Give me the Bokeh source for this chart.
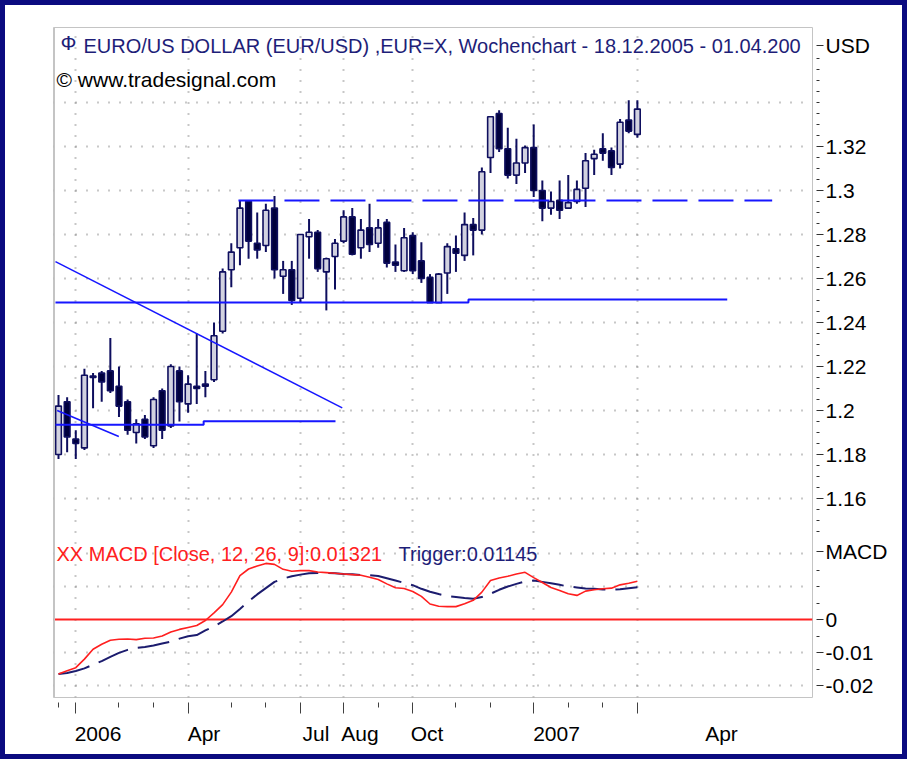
import numpy as np
from bokeh.plotting import figure
from bokeh.models import (Range1d, LinearAxis, FixedTicker, Grid, Label,
                          ColumnDataSource, Span)
from bokeh.embed import file_html
from bokeh.resources import INLINE

# ---------------- data (weekly bars 18.12.2005 - 01.04.2007) ----------------
week_index = list(range(68))

open_ = [1.180, 1.204, 1.187, 1.183, 1.2150, 1.217, 1.218, 1.211, 1.204, 1.190,
         1.196, 1.184, 1.209, 1.193, 1.218, 1.203, 1.211, 1.212, 1.214, 1.236,
         1.264, 1.274, 1.295, 1.276, 1.275, 1.292, 1.261, 1.264, 1.251, 1.279,
         1.281, 1.263, 1.270, 1.277, 1.288, 1.274, 1.283, 1.276, 1.2855, 1.2675,
         1.2635, 1.2795, 1.268, 1.2605, 1.249, 1.2625, 1.2735, 1.2705, 1.2845, 1.282,
         1.315, 1.335, 1.319, 1.307, 1.3125, 1.3195, 1.300, 1.292, 1.2955, 1.292,
         1.295, 1.301, 1.3145, 1.319, 1.318, 1.312, 1.332, 1.3255]
high = [1.207, 1.206, 1.191, 1.219, 1.217, 1.218, 1.233, 1.220, 1.205, 1.196,
        1.198, 1.206, 1.210, 1.221, 1.220, 1.216, 1.235, 1.218, 1.240, 1.2645,
        1.276, 1.2955, 1.2955, 1.290, 1.294, 1.2975, 1.268, 1.268, 1.280, 1.287,
        1.282, 1.2695, 1.278, 1.291, 1.292, 1.287, 1.294, 1.287, 1.287, 1.2755,
        1.283, 1.281, 1.2765, 1.262, 1.2625, 1.276, 1.2795, 1.290, 1.2875, 1.3105,
        1.3335, 1.3365, 1.3285, 1.3235, 1.3205, 1.330, 1.3045, 1.2995, 1.3045, 1.307,
        1.3045, 1.317, 1.3185, 1.326, 1.3195, 1.3325, 1.341, 1.341]
low = [1.178, 1.181, 1.178, 1.182, 1.201, 1.204, 1.208, 1.197, 1.189, 1.185,
       1.187, 1.183, 1.187, 1.192, 1.195, 1.199, 1.203, 1.206, 1.213, 1.235,
       1.256, 1.266, 1.269, 1.269, 1.272, 1.260, 1.253, 1.248, 1.249, 1.269,
       1.263, 1.2455, 1.255, 1.276, 1.2705, 1.269, 1.272, 1.274, 1.265, 1.263,
       1.263, 1.262, 1.258, 1.249, 1.249, 1.253, 1.263, 1.268, 1.2705, 1.280,
       1.308, 1.3175, 1.3055, 1.303, 1.308, 1.297, 1.286, 1.289, 1.287, 1.292,
       1.294, 1.2925, 1.307, 1.3135, 1.307, 1.310, 1.326, 1.324]
close = [1.202, 1.188, 1.185, 1.216, 1.2157, 1.213, 1.209, 1.202, 1.191, 1.194,
         1.188, 1.205, 1.191, 1.220, 1.204, 1.212, 1.210, 1.211, 1.234, 1.263,
         1.272, 1.292, 1.277, 1.273, 1.291, 1.264, 1.264, 1.250, 1.280, 1.281,
         1.2645, 1.269, 1.276, 1.288, 1.271, 1.282, 1.2755, 1.283, 1.267, 1.266,
         1.2785, 1.2635, 1.260, 1.249, 1.262, 1.2745, 1.2715, 1.2845, 1.282, 1.3085,
         1.3335, 1.319, 1.307, 1.3125, 1.3195, 1.300, 1.292, 1.295, 1.291, 1.2945,
         1.3005, 1.3135, 1.3165, 1.317, 1.3105, 1.331, 1.327, 1.337]

macd = [-0.0165, -0.0155, -0.0146, -0.0120, -0.0090, -0.0075, -0.0063, -0.0060, -0.0059, -0.0061,
        -0.0057, -0.0056, -0.0050, -0.0038, -0.0030, -0.0024, -0.0018, -0.0003, 0.0020, 0.0045,
        0.0083, 0.0133, 0.0153, 0.0162, 0.0170, 0.0167, 0.0152, 0.0146, 0.0148, 0.0148,
        0.0144, 0.0142, 0.0140, 0.0138, 0.0136, 0.0134, 0.0128, 0.0121, 0.0108, 0.0096,
        0.0094, 0.0085, 0.0070, 0.0047, 0.0040, 0.0039, 0.0039, 0.0048, 0.0058, 0.0083,
        0.0118, 0.0126, 0.0131, 0.0138, 0.0143, 0.0127, 0.0112, 0.0097, 0.0088, 0.0078,
        0.0073, 0.0086, 0.0090, 0.0093, 0.0095, 0.0105, 0.0110, 0.0116]
trigger = [-0.0165, -0.0162, -0.0156, -0.0148, -0.0137, -0.0126, -0.0113, -0.0101, -0.0092, -0.0086,
           -0.0083, -0.0079, -0.0073, -0.0067, -0.0058, -0.0051, -0.0047, -0.0033, -0.0021, -0.0006,
           0.0010, 0.0032, 0.0055, 0.0076, 0.0095, 0.0114, 0.0124, 0.0131, 0.0136, 0.0140,
           0.0141, 0.0141, 0.0140, 0.0138, 0.0137, 0.0135, 0.0134, 0.0132, 0.0125, 0.0118,
           0.0111, 0.0104, 0.0093, 0.0084, 0.0077, 0.0071, 0.0068, 0.0065, 0.0063, 0.0068,
           0.0078, 0.0090, 0.0100, 0.0108, 0.0115, 0.0118, 0.0114, 0.0110, 0.0105, 0.0100,
           0.0097, 0.0094, 0.0093, 0.0091, 0.0090, 0.0092, 0.0095, 0.0098]
macd_zero = [0.0]

# trend lines (week index, price)
desc_x = [-0.35, 32.84]
desc_y = [1.2677, 1.2012]
short_x = [-0.15, 6.98]
short_y = [1.2000, 1.1882]
low_sup_x = [-0.35, 16.8, 16.8, 32.06]
low_sup_y = [1.1935, 1.1935, 1.1951, 1.1951]
mid_sup_x = [-0.35, 47.45, 47.45, 77.4]
mid_sup_y = [1.2491, 1.2491, 1.2505, 1.2505]
res_x = [20.83, 82.6]
res_y = [1.2955, 1.2955]

# axis ticks / labels
price_ticks = [1.16, 1.18, 1.20, 1.22, 1.24, 1.26, 1.28, 1.30, 1.32]
price_tick_labels = ["1.16", "1.18", "1.2", "1.22", "1.24", "1.26", "1.28", "1.3", "1.32"]
price_grid = [1.16, 1.18, 1.20, 1.22, 1.24, 1.26, 1.28, 1.30, 1.32, 1.34]
macd_ticks = [-0.02, -0.01, 0.0]
macd_tick_labels = ["-0.02", "-0.01", "0"]
macd_grid = [-0.02, -0.01, 0.01, 0.02]
macd_minor = [-0.015, -0.005, 0.005, 0.01, 0.015]
month_ticks = [2, 15, 28, 33, 41, 55, 67]
month_minor = [0, 7, 11, 20, 24, 37, 46, 50, 59, 63]
month_label_pos = [4.57, 16.84, 29.8, 34.9, 42.65, 57.64, 76.74]
month_labels = ["2006", "Apr", "Jul", "Aug", "Oct", "2007", "Apr"]

# ---------------- layout helpers (reference pixel -> data) ----------------
def xd(px):
    return (px - 58) / 8.64

def yd(py):
    return 1.32 - (py - 146) / 2200.0

X0, X1 = xd(53), xd(812)
Y0, Y1 = yd(697), yd(27)
M0, M1 = -(697 - 619) / 3300.0, (619 - 27) / 3300.0

def m2p(m):
    return round(Y0 + (m - M0) * (Y1 - Y0) / (M1 - M0), 9)

FONT = "Liberation Sans"
NAVY = "#0e0e5e"
BLUE = "#1616ff"
GRID = "#909090"

p = figure(width=907, height=759,
           x_range=Range1d(X0, X1), y_range=Range1d(Y0, Y1),
           output_backend="svg", toolbar_location=None,
           x_axis_location=None, y_axis_location=None,
           min_border_left=48, min_border_right=100,
           min_border_top=22, min_border_bottom=67,
           background_fill_color="white", border_fill_color="white",
           outline_line_color="#c4c4c4", outline_line_width=1,
           styles={"border": "5px solid #0b0b80"})
p.extra_y_ranges = {"macd": Range1d(M0, M1)}

# remove default grids, add dotted ones at the chart's own positions
for g in p.grid:
    g.visible = False
xgrid = Grid(dimension=0, ticker=FixedTicker(ticks=month_ticks),
             grid_line_color=GRID, grid_line_dash="1 10", grid_line_width=2)
ygrid = Grid(dimension=1,
             ticker=FixedTicker(ticks=price_grid + [m2p(m) for m in macd_grid]),
             grid_line_color=GRID, grid_line_dash="1 10", grid_line_width=2)
p.add_layout(xgrid)
p.add_layout(ygrid)

p.add_layout(Span(location=X0, dimension="height", line_color="#c4c4c4", line_width=3))

# right axis (price + macd labels)
right_ticks = price_ticks + [yd(45)] + [m2p(m) for m in macd_ticks] + [m2p(0.0206)]
overrides = {t: s for t, s in zip(price_ticks, price_tick_labels)}
overrides[yd(45)] = "USD"
for m, s in zip(macd_ticks, macd_tick_labels):
    overrides[m2p(m)] = s
overrides[m2p(0.0206)] = "MACD"
price_minor = [round(1.145 + 0.005 * i, 3) for i in range(44)]
price_minor = [v for v in price_minor if all(abs(v - t) > 1e-6 for t in price_ticks)]
right_minor = price_minor + [m2p(m) for m in macd_minor]

yaxis = LinearAxis(ticker=FixedTicker(ticks=sorted(right_ticks), minor_ticks=right_minor),
                   major_label_overrides=overrides,
                   axis_line_color=None,
                   major_tick_in=-4, major_tick_out=11,
                   minor_tick_in=-4, minor_tick_out=7,
                   major_tick_line_color="#303030", minor_tick_line_color="#303030",
                   major_label_standoff=2,
                   major_label_text_font=FONT, major_label_text_font_size="21px",
                   major_label_text_color="black")
p.add_layout(yaxis, "right")

# bottom axes: ticks only, then labels only
xaxis_ticks = LinearAxis(ticker=FixedTicker(ticks=month_ticks, minor_ticks=month_minor),
                         major_label_overrides={t: "" for t in month_ticks},
                         major_label_text_font_size="1px", major_label_standoff=0,
                         axis_line_color=None,
                         major_tick_in=-5, major_tick_out=16,
                         minor_tick_in=-5, minor_tick_out=10,
                         major_tick_line_color="#404040", minor_tick_line_color="#404040")
p.add_layout(xaxis_ticks, "below")
xaxis_labels = LinearAxis(ticker=FixedTicker(ticks=month_label_pos),
                          major_label_overrides={t: s for t, s in zip(month_label_pos, month_labels)},
                          axis_line_color=None, major_tick_line_color=None,
                          minor_tick_line_color=None,
                          major_tick_in=0, major_tick_out=0, minor_tick_in=0, minor_tick_out=0,
                          major_label_standoff=8,
                          major_label_text_font=FONT, major_label_text_font_size="21px",
                          major_label_text_color="black")
p.add_layout(xaxis_labels, "below")

# candles
top = np.maximum(open_, close)
bottom = np.minimum(open_, close)
fill = ["#d2d2e0" if c >= o else "#00003c" for o, c in zip(open_, close)]
src = ColumnDataSource(dict(x=week_index, high=high, low=low, top=top, bottom=bottom, fill=fill))
p.segment(x0="x", y0="low", x1="x", y1="high", source=src, line_color=NAVY, line_width=2)
p.vbar(x="x", width=0.66, top="top", bottom="bottom", fill_color="fill",
       line_color=NAVY, line_width=1.6, source=src)

# trend lines
p.line(desc_x, desc_y, line_color=BLUE, line_width=1.5)
p.line(short_x, short_y, line_color=BLUE, line_width=1.5)
p.line(low_sup_x, low_sup_y, line_color=BLUE, line_width=2)
p.line(mid_sup_x, mid_sup_y, line_color=BLUE, line_width=2)
p.line(res_x, res_y, line_color=BLUE, line_width=2, line_dash="35 11")

# MACD panel
p.hspan(y=macd_zero, y_range_name="macd", line_color="#ff2020", line_width=2)
p.line(week_index, trigger, y_range_name="macd", line_color="#1c1c6e",
       line_width=2, line_dash="32 10")
p.line(week_index, macd, y_range_name="macd", line_color="#ff1f1f", line_width=1.6)

# texts
p.add_layout(Label(x=xd(60), y=yd(42), text="Ф", text_font=FONT, text_font_size="21px",
                   text_color="#1e1e78", text_baseline="middle", text_align="left"))
p.add_layout(Label(x=xd(83), y=yd(45),
                   text="EURO/US DOLLAR (EUR/USD) ,EUR=X, Wochenchart - 18.12.2005 - 01.04.200",
                   text_font=FONT, text_font_size="20px", text_color="#1e1e78",
                   text_baseline="middle", text_align="left"))
p.add_layout(Label(x=xd(56), y=yd(79), text="© www.tradesignal.com",
                   text_font=FONT, text_font_size="21px", text_color="black",
                   text_baseline="middle", text_align="left"))
p.add_layout(Label(x=xd(56), y=yd(553), text="XX MACD [Close, 12, 26, 9]:0.01321",
                   text_font=FONT, text_font_size="20px", text_color="#ff2020",
                   text_baseline="middle", text_align="left"))
p.add_layout(Label(x=xd(398), y=yd(553), text="Trigger:0.01145",
                   text_font=FONT, text_font_size="20px", text_color="#1e1e78",
                   text_baseline="middle", text_align="left"))

open("out.html", "w").write(file_html(p, INLINE))
